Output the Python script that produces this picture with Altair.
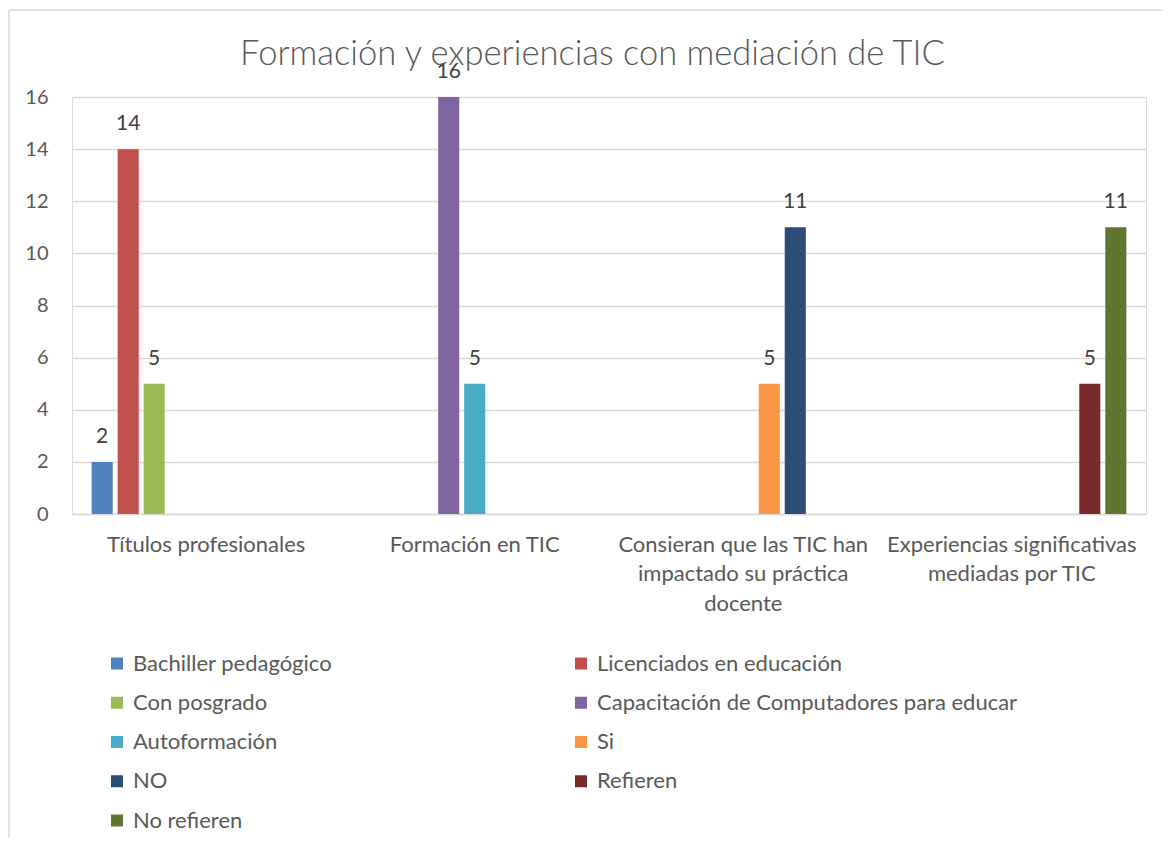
import json
import altair as alt
import pandas as pd

# ---- data ----
title_text = "Formación y experiencias con mediación de TIC"
categories = [
    "Títulos profesionales",
    "Formación en TIC",
    "Consieran que las TIC han impactado su práctica docente",
    "Experiencias significativas mediadas por TIC",
]
category_lines = [
    ["Títulos profesionales"],
    ["Formación en TIC"],
    ["Consieran que las TIC han", "impactado su práctica", "docente"],
    ["Experiencias significativas", "mediadas por TIC"],
]
series = [
    "Bachiller pedagógico",
    "Licenciados en educación",
    "Con posgrado",
    "Capacitación de Computadores para educar",
    "Autoformación",
    "Si",
    "NO",
    "Refieren",
    "No refieren",
]
series_category = [0, 0, 0, 1, 1, 2, 2, 3, 3]
series_values = [2, 14, 5, 16, 5, 5, 11, 5, 11]
colors = ["#4F81BD", "#C0504D", "#9BBB59", "#8064A2", "#4BACC6",
          "#F79646", "#2C4D75", "#772C2A", "#5F7530"]
y_ticks = [0, 2, 4, 6, 8, 10, 12, 14, 16]

df = pd.DataFrame({
    "categoria": [categories[i] for i in series_category],
    "serie": series,
    "valor": series_values,
})

# legend fills column by column: reorder so it reads row by row (2 columns)
legend_order = [series[i] for i in range(0, len(series), 2)] + \
               [series[i] for i in range(1, len(series), 2)]
legend_colors = [colors[series.index(s)] for s in legend_order]

FONT = "Lato"
TXT = "#595959"
GRID = "#d9d9d9"

# multi-line category labels
expr = "datum.value"
for cat, lines in reversed(list(zip(categories, category_lines))):
    expr = f"datum.value == {json.dumps(cat)} ? {json.dumps(lines)} : ({expr})"

x_enc = alt.X("categoria:N", sort=categories,
              scale=alt.Scale(paddingInner=0.1285, paddingOuter=0.064),
              axis=alt.Axis(title=None, labelAngle=0, ticks=False, grid=False,
                            domainColor=GRID, domainWidth=1.5,
                            labelFontSize=22, labelColor=TXT, labelFont=FONT,
                            labelLimit=400, labelPadding=20, labelLineHeight=29.5,
                            labelBaseline="top", labelExpr=expr))
xo_enc = alt.XOffset("serie:N", sort=series,
                     scale=alt.Scale(domain=series, paddingInner=0.19, paddingOuter=0.095))
y_enc = alt.Y("valor:Q",
              scale=alt.Scale(domain=[0, 16], nice=False),
              axis=alt.Axis(title=None, values=y_ticks, grid=True, gridColor=GRID,
                            gridWidth=1.5, domain=False, ticks=False,
                            labelFontSize=20, labelColor=TXT, labelFont=FONT,
                            labelPadding=24))

bars = alt.Chart(df).mark_bar().encode(
    x=x_enc, xOffset=xo_enc, y=y_enc,
    color=alt.Color("serie:N",
                    scale=alt.Scale(domain=legend_order, range=legend_colors),
                    legend=alt.Legend(title=None, orient="none", legendX=34, legendY=555.5,
                                      columns=2, columnPadding=237, rowPadding=17.25,
                                      symbolType="square", symbolSize=144,
                                      symbolStrokeWidth=0, labelFontSize=22,
                                      labelFont=FONT, labelColor=TXT, labelOffset=5,
                                      labelLimit=600, padding=0)),
)

labels = alt.Chart(df).mark_text(baseline="alphabetic", dy=-19, fontSize=21,
                                 font=FONT, color="#404040").encode(
    x=alt.X("categoria:N", sort=categories), xOffset=alt.XOffset("serie:N", sort=series),
    y="valor:Q", text="valor:Q",
)

one = pd.DataFrame({"d": [0]})
top_line = alt.Chart(one).mark_rule(color=GRID, strokeWidth=1.5).encode(
    x=alt.value(-63), x2=alt.value(1120), y=alt.value(-87))
left_line = alt.Chart(one).mark_rule(color=GRID, strokeWidth=1.5).encode(
    x=alt.value(-63), y=alt.value(-87), y2=alt.value(800))
title = alt.Chart(pd.DataFrame({"t": [title_text]})).mark_text(
    fontSize=34.5, font=FONT, fontWeight=300, color=TXT,
    align="center", baseline="alphabetic").encode(
    x=alt.value(520.5), y=alt.value(-32), text="t:N")

chart = alt.layer(top_line, left_line, bars, labels, title).properties(
    width=1074, height=417,
    autosize=alt.AutoSizeParams(type="none"),
    padding={"left": 64, "top": 89, "right": 16, "bottom": 324},
).configure_view(stroke=None).configure(background="white")

chart.save("out.html", embed_options={"renderer": "svg", "actions": False})
